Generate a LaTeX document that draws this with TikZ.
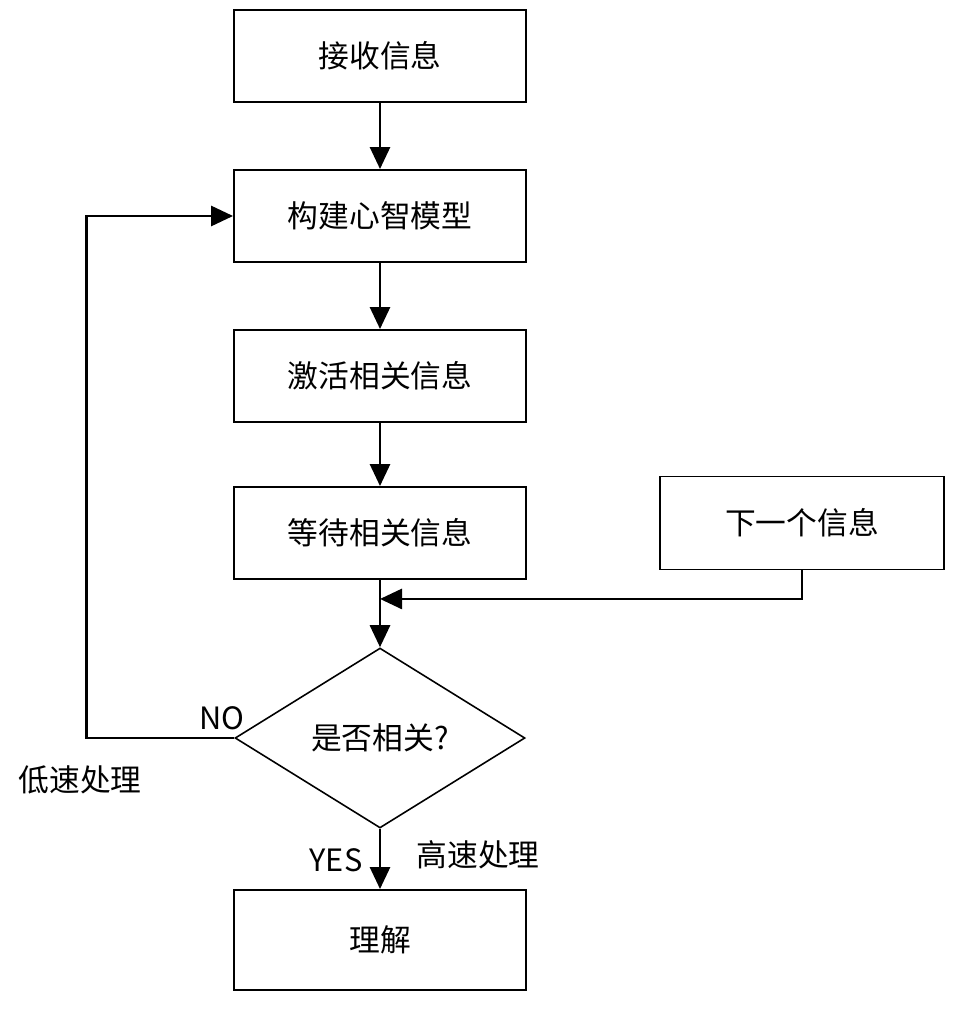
\documentclass[tikz,border=0pt]{standalone}
\usepackage{fontspec}
\setmainfont{Noto Sans CJK SC}
\usetikzlibrary{shapes.geometric, arrows.meta}

\begin{document}
\begin{tikzpicture}[x=0.02cm, y=-0.02cm,
  box/.style={draw, line width=1.1pt, minimum width=5.84cm, minimum height=1.84cm,
    font=\fontsize{17.5}{20}\selectfont},
  link/.style={line width=1.6pt, -{Triangle[length=4.4mm, width=4mm]}},
  lbl/.style={font=\fontsize{17.5}{20}\selectfont}]
  \useasboundingbox (0,0) rectangle (964,1016);

  % 主干流程
  \node[box] (recv) at (380,56) {接收信息};
  \node[box] (model) at (380,216) {构建心智模型};
  \node[box] (activ) at (380,376) {激活相关信息};
  \node[box] (wait) at (380,533) {等待相关信息};
  \node[box, minimum width=5.68cm, minimum height=1.86cm] (next) at (802,523) {下一个信息};
  \node[draw, diamond, line width=0.9pt, minimum width=5.8cm, minimum height=3.6cm,
    inner sep=0pt, lbl] (rel) at (380,738) {是否相关?};
  \node[box, minimum height=2cm] (und) at (380,940) {理解};

  % 汇合点
  \path (wait.south) ++(0,19) coordinate (join);

  \draw[link] (recv) -- (model);
  \draw[link] (model) -- (activ);
  \draw[link] (activ) -- (wait);
  \draw[link] (wait) -- (rel);
  \draw[link] (next.south) |- (join);
  \draw[link] (rel) -- (und);
  % 低速处理：回到构建心智模型
  \draw[link] (rel.west) -- ++(-148,0) |- (model.west);

  \node[lbl] (no) at (222,718) {NO};
  \node[lbl] (slow) at (80,780) {低速处理};
  \node[lbl] (yes) at (336,860) {YES};
  \node[lbl] (fast) at (478,855) {高速处理};
\end{tikzpicture}
\end{document}
